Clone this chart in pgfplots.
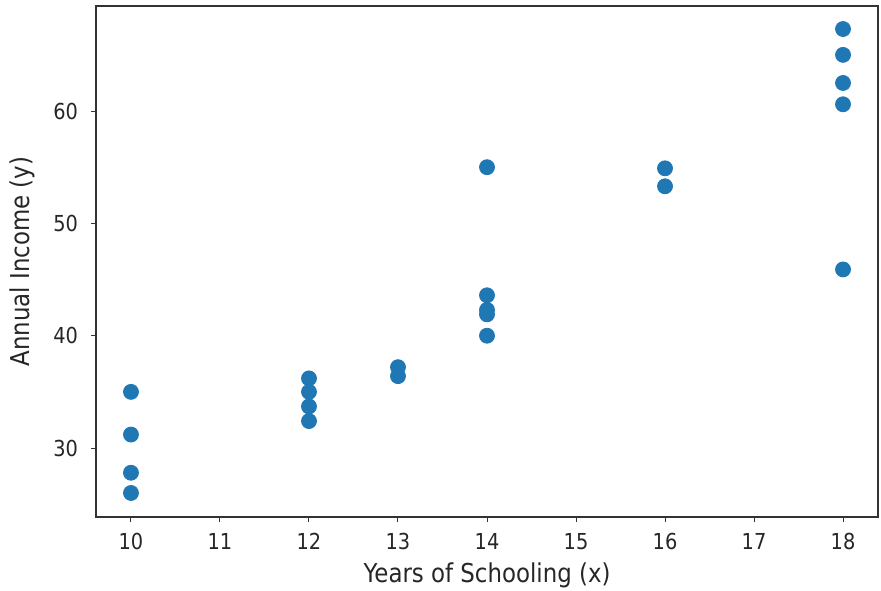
\documentclass[border=0pt]{standalone}
\usepackage{fontspec}
\setmainfont{DejaVu Sans}
\newfontfamily\tickfont[FakeStretch=0.88]{DejaVu Sans}
\usepackage{pgfplots}
\pgfplotsset{compat=1.18}
\definecolor{mplblue}{HTML}{1F77B4}
\begin{document}
\begin{tikzpicture}
\begin{axis}[
  scale only axis,
  width=391pt, height=255.5pt,
  xmin=9.607, xmax=18.393,
  ymin=23.86, ymax=69.35,
  xtick={10,11,...,18},
  ytick={30,40,50,60},
  tick align=outside,
  tick pos=left,
  major tick length=2.5pt,
  every tick/.style={black!80, line width=0.5pt},
  axis line style={black!80, line width=0.6pt},
  tick label style={font=\tickfont\fontsize{11}{13}\selectfont, text=black!85},
  xticklabel style={yshift=-2pt},
  yticklabel style={xshift=-3pt},
  label style={font=\tickfont\fontsize{13}{15}\selectfont, text=black!85},
  /pgf/number format/assume math mode=true,
  xlabel={Years of Schooling (x)},
  ylabel={Annual Income (y)},
  xlabel style={at={(axis description cs:0.5,0)}, anchor=center, yshift=-29pt},
  ylabel style={at={(axis description cs:0,0.5)}, anchor=center, yshift=37pt},
]
\addplot[only marks, color=mplblue, mark=*, mark size=3.75pt, mark options={draw=none, fill=mplblue}] coordinates {
  (10,35.0) (10,31.2) (10,27.8) (10,26.0)
  (12,36.2) (12,35.0) (12,33.7) (12,32.4)
  (13,37.2) (13,36.4)
  (14,55.0) (14,43.6) (14,42.3) (14,41.9) (14,40.0)
  (16,54.9) (16,53.3)
  (18,67.3) (18,65.0) (18,62.5) (18,60.6) (18,45.9)
};
\coordinate (sw) at (rel axis cs:0,0);
\coordinate (ne) at (rel axis cs:1,1);
\end{axis}
\pgfresetboundingbox
\path[use as bounding box] ([shift={(-48pt,-36.5pt)}]sw) rectangle ([shift={(1.5pt,3pt)}]ne);
\end{tikzpicture}
\end{document}
